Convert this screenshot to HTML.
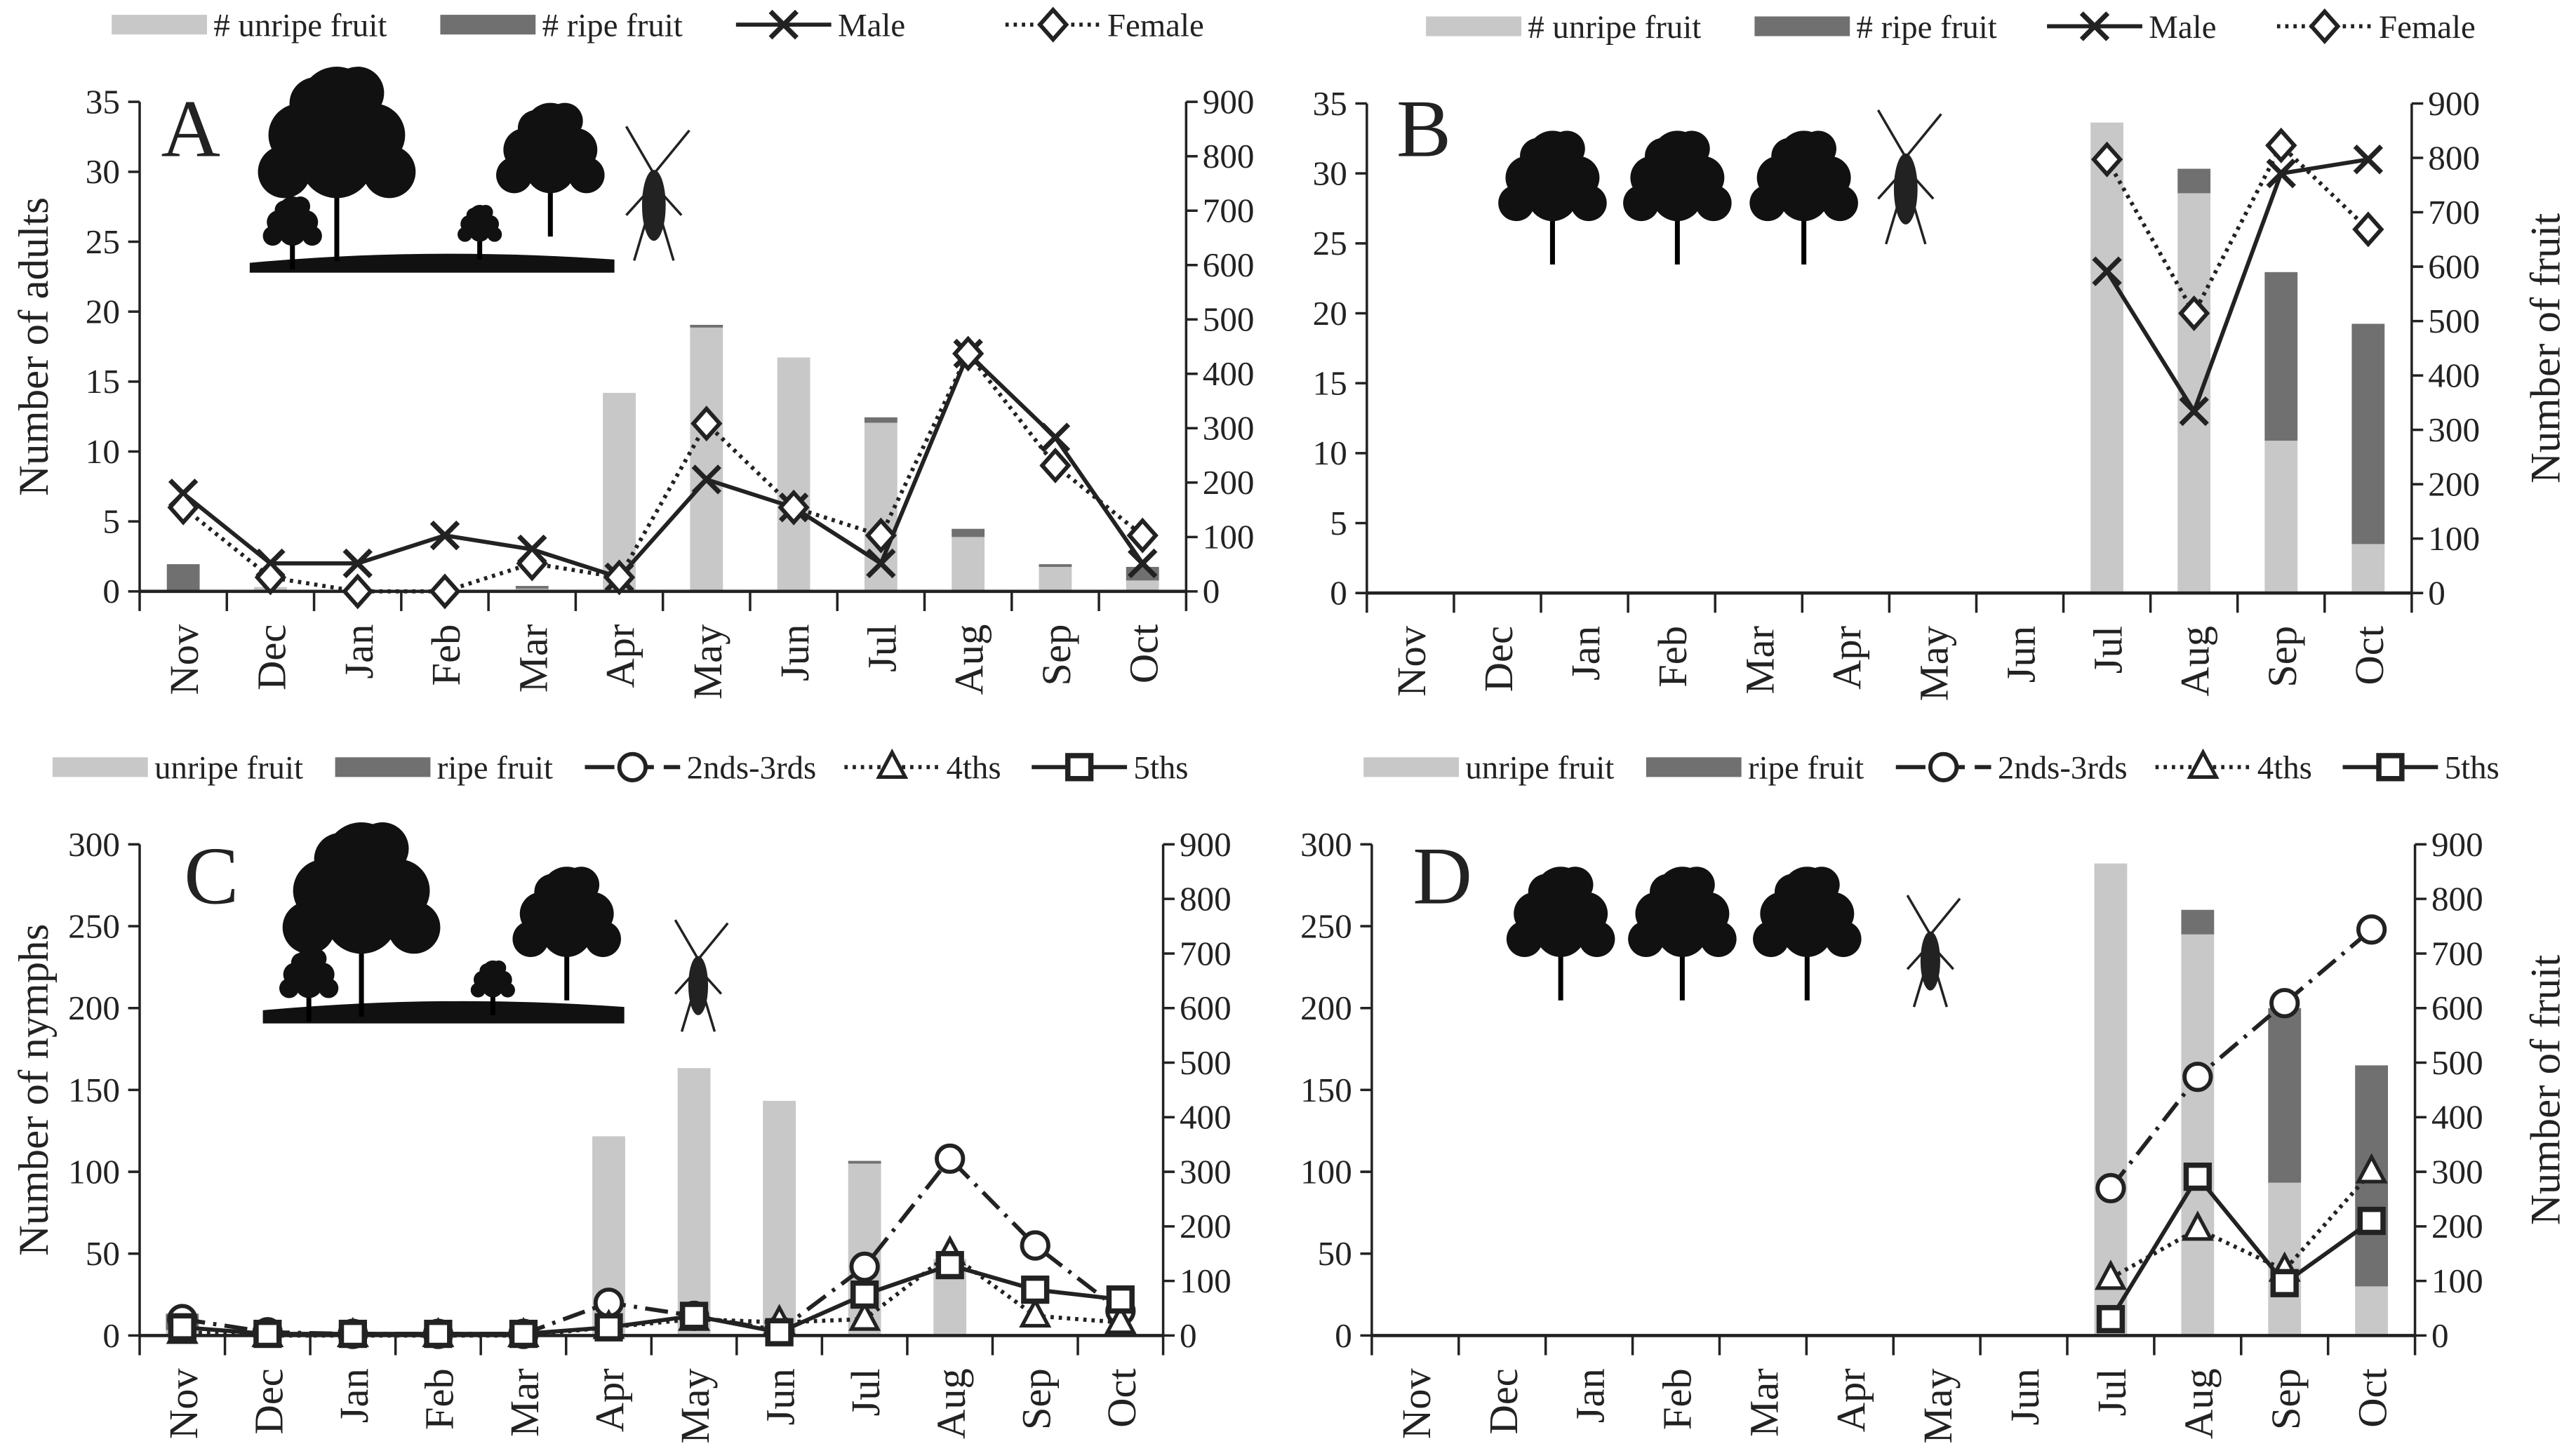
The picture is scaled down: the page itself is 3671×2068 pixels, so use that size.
<!DOCTYPE html>
<html><head><meta charset="utf-8"><style>
html,body{margin:0;padding:0;background:#fff}
svg{display:block}
text{font-family:"Liberation Serif",serif;fill:#222}
</style></head><body>
<svg id="c" width="3671" height="2068" viewBox="0 0 1568 883.3" xmlns="http://www.w3.org/2000/svg"></svg>
<script>
const months=["Nov","Dec","Jan","Feb","Mar","Apr","May","Jun","Jul","Aug","Sep","Oct"];
// Panel A
const aUnripe=[0,8,0,0,5,365,485,430,310,100,45,20];
const aRipe=[50,0,0,0,5,0,5,0,10,15,5,25];
const aMale=[7,2,2,4,3,1,8,6,2,17,11,2];
const aFemale=[6,1,0,0,2,1,12,6,4,17,9,4];
// Panel B
const bUnripe=[0,0,0,0,0,0,0,0,865,735,280,90];
const bRipe=[0,0,0,0,0,0,0,0,0,45,310,405];
const bMale=[null,null,null,null,null,null,null,null,23,13,30,31];
const bFemale=[null,null,null,null,null,null,null,null,31,20,32,26];
// Panel C
const cUnripe=[10,0,0,0,0,365,490,430,315,140,0,0];
const cRipe=[30,0,0,0,0,0,0,0,5,0,0,0];
const c23=[10,2,1,1,1,20,12,3,42,108,55,15];
const c4=[2,0,0,0,0,5,10,8,10,50,12,8];
const c5=[5,1,1,1,1,5,12,2,25,43,28,22];
// Panel D
const dUnripe=[0,0,0,0,0,0,0,0,865,735,280,90];
const dRipe=[0,0,0,0,0,0,0,0,0,45,320,405];
const d23=[null,null,null,null,null,null,null,null,90,158,203,248];
const d4=[null,null,null,null,null,null,null,null,35,65,40,100];
const d5=[null,null,null,null,null,null,null,null,10,97,32,70];
const leftTicksA=[0,5,10,15,20,25,30,35];
const leftTicksC=[0,50,100,150,200,250,300];
const rightTicks=[0,100,200,300,400,500,600,700,800,900];

const svg=document.getElementById('c');
const NS="http://www.w3.org/2000/svg";
function el(tag,attrs,parent,txt){const e=document.createElementNS(NS,tag);for(const k in attrs)e.setAttribute(k,attrs[k]);if(txt!==undefined)e.textContent=txt;(parent||svg).appendChild(e);return e;}

function marker(g,type,x,y){
  let m;
  if(type==='x'){m=el('path',{d:`M${x-8},${y-8}L${x+8},${y+8}M${x-8},${y+8}L${x+8},${y-8}`,stroke:'#222','stroke-width':3,fill:'none'},g);}
  else if(type==='diamond'){m=el('path',{d:`M${x},${y-9}L${x+8},${y}L${x},${y+9}L${x-8},${y}Z`,stroke:'#222','stroke-width':2.5,fill:'#fff'},g);}
  else if(type==='circle'){m=el('circle',{cx:x,cy:y,r:8,stroke:'#222','stroke-width':2.5,fill:'#fff'},g);}
  else if(type==='tri'){m=el('path',{d:`M${x},${y-9}L${x+8},${y+6}L${x-8},${y+6}Z`,stroke:'#222','stroke-width':2.2,fill:'#fff'},g);}
  else {m=el('rect',{x:x-7,y:y-7,width:14,height:14,stroke:'#222','stroke-width':3.2,fill:'#fff'},g);}
  return m;
}

function tree(g,x,y,s){
  el('rect',{x:x-1.5,y:y,width:3,height:40*s},g);
  const blobs=[[0,-30,14],[-14,-18,12],[14,-18,12],[-20,-4,10],[20,-4,10],[0,-8,14],[-8,-30,10],[8,-34,10]];
  blobs.forEach(b=>el('circle',{cx:x+b[0]*s,cy:y+b[1]*s+10*s,r:b[2]*s,fill:'#111'},g));
}
function bug(g,x,y,s){
  el('ellipse',{cx:x,cy:y,rx:6*s,ry:18*s,fill:'#222'},g);
  el('path',{d:`M${x},${y-16*s}L${x-14*s},${y-40*s}M${x},${y-16*s}L${x+18*s},${y-38*s}M${x-5*s},${y-5*s}L${x-14*s},${y+5*s}M${x+5*s},${y-5*s}L${x+14*s},${y+5*s}M${x-4*s},${y+8*s}L${x-10*s},${y+28*s}M${x+4*s},${y+8*s}L${x+10*s},${y+28*s}`,stroke:'#222','stroke-width':1.5,fill:'none'},g);
}

function panel(cfg){
  const g=el('g',{});
  
  
  const {L,R,Y0,Ytop,lmax,rmax}=cfg;
  const n=months.length, cw=(R-L)/n;
  const xc=i=>L+cw*(i+0.5);
  const yl=v=>Y0-(Y0-Ytop)*v/lmax;
  const yr=v=>Y0-(Y0-Ytop)*v/rmax;
  cfg.unripe.forEach((v,i)=>{
    const r=cfg.ripe[i];
    if(v>0){const b=el('rect',{x:xc(i)-10,y:yr(v),width:20,height:Y0-yr(v),fill:'#c8c8c8'},g);
      }
    if(r>0){const b=el('rect',{x:xc(i)-10,y:yr(v+r),width:20,height:yr(v)-yr(v+r),fill:'#707070'},g);
      }
  });
  el('line',{x1:L,y1:Y0,x2:R,y2:Y0,stroke:'#222','stroke-width':2},g);
  el('line',{x1:L,y1:Ytop,x2:L,y2:Y0+12,stroke:'#222','stroke-width':1.5},g);
  el('line',{x1:R,y1:Ytop,x2:R,y2:Y0+12,stroke:'#222','stroke-width':1.5},g);
  for(let i=1;i<n;i++)el('line',{x1:L+cw*i,y1:Y0,x2:L+cw*i,y2:Y0+12,stroke:'#222','stroke-width':1.5},g);
  cfg.lticks.forEach(t=>{el('line',{x1:L-7,y1:yl(t),x2:L,y2:yl(t),stroke:'#222','stroke-width':1.5},g);
    const tx=el('text',{x:L-12,y:yl(t)+7,'text-anchor':'end','font-size':21},g,t);
    });
  rightTicks.forEach(t=>{el('line',{x1:R,y1:yr(t),x2:R+7,y2:yr(t),stroke:'#222','stroke-width':1.5},g);
    const tx=el('text',{x:R+10,y:yr(t)+7,'font-size':21},g,t);
    });
  months.forEach((m,i)=>{const tx=el('text',{transform:`translate(${xc(i)+9},${Y0+20}) rotate(-90)`,'text-anchor':'end','font-size':25},g,m);
    });
  cfg.series.forEach(s=>{
    let d='';s.data.forEach((v,i)=>{if(v===null)return;d+=(d?'L':'M')+xc(i)+','+yl(v);});
    const p=el('path',{d,stroke:'#222','stroke-width':2.5,fill:'none','stroke-dasharray':s.dash||'none'},g);
    
    s.data.forEach((v,i)=>{if(v===null)return;const m=marker(g,s.mk,xc(i),yl(v));
      });
  });
  const lt=el('text',{x:cfg.lx,y:cfg.ly,'font-size':50},g,cfg.letter);
  
  if(cfg.ltitle){const t=el('text',{transform:`translate(29,${(Y0+Ytop)/2}) rotate(-90)`,'text-anchor':'middle','font-size':26,fill:'#444'},g,cfg.ltitle);
    }
  if(cfg.rtitle){const t=el('text',{transform:`translate(1558,${(Y0+Ytop)/2}) rotate(-90)`,'text-anchor':'middle','font-size':26,fill:'#444'},g,cfg.rtitle);
    }
  const lg=el('g',{},g);
  cfg.legend.forEach(e=>{
    if(e.bar)el('rect',{x:e.x,y:cfg.legy-6,width:58,height:12,fill:e.bar},lg);
    else{el('line',{x1:e.x,y1:cfg.legy,x2:e.x+58,y2:cfg.legy,stroke:'#222','stroke-width':2.5,'stroke-dasharray':e.dash||'none'},lg);marker(lg,e.mk,e.x+29,cfg.legy);}
    const t=el('text',{x:e.x+62,y:cfg.legy+7,'font-size':20},lg,e.label);
    
  });
  cfg.deco(g);
}

const legAdult=[{x:68,bar:'#c8c8c8',label:'# unripe fruit'},{x:268,bar:'#707070',label:'# ripe fruit'},{x:448,mk:'x',label:'Male'},{x:612,mk:'diamond',dash:'2,3',label:'Female'}];
const legAdultB=[{x:868,bar:'#c8c8c8',label:'# unripe fruit'},{x:1068,bar:'#707070',label:'# ripe fruit'},{x:1246,mk:'x',label:'Male'},{x:1386,mk:'diamond',dash:'2,3',label:'Female'}];
panel({letter:'A',L:85,R:722,Y0:360,Ytop:62,lmax:35,rmax:900,lticks:leftTicksA,unripe:aUnripe,ripe:aRipe,
  series:[{name:'male',data:aMale,mk:'x'},{name:'female',data:aFemale,mk:'diamond',dash:'2,3'}],
  lx:98,ly:95,ltitle:'Number of adults',legy:15,legend:legAdult,
  deco:g=>{el('path',{d:'M152,160 Q260,150 374,158 L374,166 L152,166Z',fill:'#111'},g);tree(g,205,95,1.6);tree(g,178,140,0.6);tree(g,335,100,1.1);tree(g,292,140,0.45);bug(g,398,125,1.2);}});
panel({letter:'B',L:832,R:1468,Y0:361,Ytop:63,lmax:35,rmax:900,lticks:leftTicksA,unripe:bUnripe,ripe:bRipe,
  series:[{name:'male',data:bMale,mk:'x'},{name:'female',data:bFemale,mk:'diamond',dash:'2,3'}],
  lx:850,ly:95,rtitle:'Number of fruit',legy:16,legend:legAdultB,
  deco:g=>{tree(g,945,117,1.1);tree(g,1021,117,1.1);tree(g,1098,117,1.1);bug(g,1160,115,1.2);}});
const legNymph=[{x:32,bar:'#c8c8c8',label:'unripe fruit'},{x:204,bar:'#707070',label:'ripe fruit'},{x:356,mk:'circle',dash:'18,6',label:'2nds-3rds'},{x:514,mk:'tri',dash:'2,3',label:'4ths'},{x:628,mk:'sq',label:'5ths'}];
panel({letter:'C',L:85,R:708,Y0:813,Ytop:514,lmax:300,rmax:900,lticks:leftTicksC,unripe:cUnripe,ripe:cRipe,
  series:[{name:'2nds-3rds',data:c23,mk:'circle',dash:'14,5,2,5'},{name:'4ths',data:c4,mk:'tri',dash:'2,3'},{name:'5ths',data:c5,mk:'sq'}],
  lx:112,ly:550,ltitle:'Number of nymphs',legy:467,legend:legNymph,
  deco:g=>{el('path',{d:'M160,615 Q270,605 380,613 L380,623 L160,623Z',fill:'#111'},g);tree(g,220,555,1.6);tree(g,188,598,0.6);tree(g,345,565,1.1);tree(g,300,600,0.45);bug(g,425,600,1.0);}});
panel({letter:'D',L:835,R:1470,Y0:813,Ytop:514,lmax:300,rmax:900,lticks:leftTicksC,unripe:dUnripe,ripe:dRipe,
  series:[{name:'2nds-3rds',data:d23,mk:'circle',dash:'14,5,2,5'},{name:'4ths',data:d4,mk:'tri',dash:'2,3'},{name:'5ths',data:d5,mk:'sq'}],
  lx:860,ly:550,rtitle:'Number of fruit',legy:467,legend:legNymph.map(e=>Object.assign({},e,{x:e.x+798})),
  deco:g=>{tree(g,950,565,1.1);tree(g,1024,565,1.1);tree(g,1100,565,1.1);bug(g,1175,585,1.0);}});
</script>
</body></html>
